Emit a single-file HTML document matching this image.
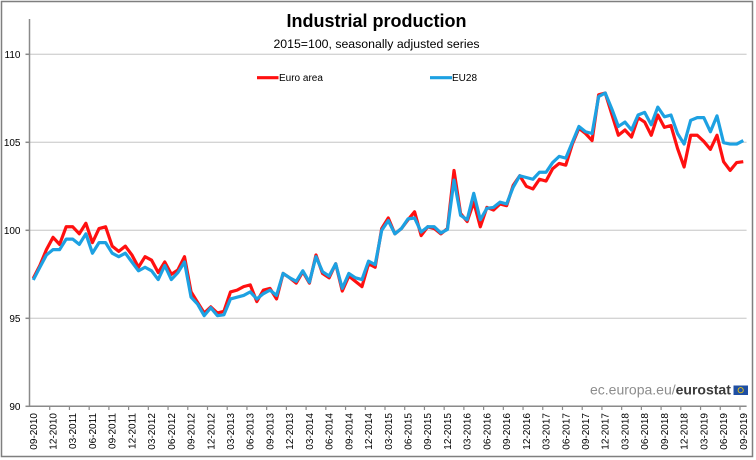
<!DOCTYPE html>
<html>
<head>
<meta charset="utf-8">
<style>
html,body{margin:0;padding:0;background:#fff;}
svg{display:block;font-family:"Liberation Sans",Arial,sans-serif;}
</style>
</head>
<body>
<svg width="756" height="460" viewBox="0 0 756 460" xmlns="http://www.w3.org/2000/svg">
<rect x="0" y="0" width="756" height="460" fill="#fff"/>
<rect x="1.5" y="1.5" width="751" height="455" fill="none" stroke="#7f7f7f" stroke-width="1.5"/>

<text x="376.5" y="27" font-size="18" font-weight="bold" text-anchor="middle" fill="#000">Industrial production</text>
<text x="376.5" y="48" font-size="12.3" text-anchor="middle" fill="#000">2015=100, seasonally adjusted series</text>

<!-- gridlines -->
<g stroke="#d4d4d4" stroke-width="1.3">
<line x1="30" y1="54.3" x2="746.6" y2="54.3"/>
<line x1="30" y1="142.3" x2="746.6" y2="142.3"/>
<line x1="30" y1="230.3" x2="746.6" y2="230.3"/>
<line x1="30" y1="318.3" x2="746.6" y2="318.3"/>
</g>

<!-- axes -->
<g stroke="#8a8a8a" stroke-width="1.5">
<line x1="29.5" y1="19" x2="29.5" y2="406.3"/>
<line x1="29.5" y1="406.3" x2="746.6" y2="406.3"/>
<line x1="25.5" y1="54.3" x2="29.5" y2="54.3"/>
<line x1="25.5" y1="142.3" x2="29.5" y2="142.3"/>
<line x1="25.5" y1="230.3" x2="29.5" y2="230.3"/>
<line x1="25.5" y1="318.3" x2="29.5" y2="318.3"/>
<line x1="25.5" y1="406.3" x2="29.5" y2="406.3"/>
</g>
<g font-size="10" fill="#000" text-anchor="end">
<text x="20.5" y="57.8">110</text>
<text x="20.5" y="145.8">105</text>
<text x="20.5" y="233.8">100</text>
<text x="20.5" y="321.8">95</text>
<text x="20.5" y="409.8">90</text>
</g>

<!-- x ticks -->
<g stroke="#8a8a8a" stroke-width="1.2">
<line x1="49.72" y1="406" x2="49.72" y2="410"/>
<line x1="69.44" y1="406" x2="69.44" y2="410"/>
<line x1="89.17" y1="406" x2="89.17" y2="410"/>
<line x1="108.89" y1="406" x2="108.89" y2="410"/>
<line x1="128.61" y1="406" x2="128.61" y2="410"/>
<line x1="148.33" y1="406" x2="148.33" y2="410"/>
<line x1="168.05" y1="406" x2="168.05" y2="410"/>
<line x1="187.78" y1="406" x2="187.78" y2="410"/>
<line x1="207.50" y1="406" x2="207.50" y2="410"/>
<line x1="227.22" y1="406" x2="227.22" y2="410"/>
<line x1="246.94" y1="406" x2="246.94" y2="410"/>
<line x1="266.66" y1="406" x2="266.66" y2="410"/>
<line x1="286.39" y1="406" x2="286.39" y2="410"/>
<line x1="306.11" y1="406" x2="306.11" y2="410"/>
<line x1="325.83" y1="406" x2="325.83" y2="410"/>
<line x1="345.55" y1="406" x2="345.55" y2="410"/>
<line x1="365.27" y1="406" x2="365.27" y2="410"/>
<line x1="385.00" y1="406" x2="385.00" y2="410"/>
<line x1="404.72" y1="406" x2="404.72" y2="410"/>
<line x1="424.44" y1="406" x2="424.44" y2="410"/>
<line x1="444.16" y1="406" x2="444.16" y2="410"/>
<line x1="463.88" y1="406" x2="463.88" y2="410"/>
<line x1="483.61" y1="406" x2="483.61" y2="410"/>
<line x1="503.33" y1="406" x2="503.33" y2="410"/>
<line x1="523.05" y1="406" x2="523.05" y2="410"/>
<line x1="542.77" y1="406" x2="542.77" y2="410"/>
<line x1="562.49" y1="406" x2="562.49" y2="410"/>
<line x1="582.22" y1="406" x2="582.22" y2="410"/>
<line x1="601.94" y1="406" x2="601.94" y2="410"/>
<line x1="621.66" y1="406" x2="621.66" y2="410"/>
<line x1="641.38" y1="406" x2="641.38" y2="410"/>
<line x1="661.10" y1="406" x2="661.10" y2="410"/>
<line x1="680.83" y1="406" x2="680.83" y2="410"/>
<line x1="700.55" y1="406" x2="700.55" y2="410"/>
<line x1="720.27" y1="406" x2="720.27" y2="410"/>
<line x1="739.99" y1="406" x2="739.99" y2="410"/>
</g>

<!-- x labels -->
<g font-size="10" fill="#000" text-anchor="end">
<text transform="translate(33.29,413) rotate(-90)" dy="3.5">09-2010</text>
<text transform="translate(53.01,413) rotate(-90)" dy="3.5">12-2010</text>
<text transform="translate(72.73,413) rotate(-90)" dy="3.5">03-2011</text>
<text transform="translate(92.46,413) rotate(-90)" dy="3.5">06-2011</text>
<text transform="translate(112.18,413) rotate(-90)" dy="3.5">09-2011</text>
<text transform="translate(131.90,413) rotate(-90)" dy="3.5">12-2011</text>
<text transform="translate(151.62,413) rotate(-90)" dy="3.5">03-2012</text>
<text transform="translate(171.34,413) rotate(-90)" dy="3.5">06-2012</text>
<text transform="translate(191.07,413) rotate(-90)" dy="3.5">09-2012</text>
<text transform="translate(210.79,413) rotate(-90)" dy="3.5">12-2012</text>
<text transform="translate(230.51,413) rotate(-90)" dy="3.5">03-2013</text>
<text transform="translate(250.23,413) rotate(-90)" dy="3.5">06-2013</text>
<text transform="translate(269.95,413) rotate(-90)" dy="3.5">09-2013</text>
<text transform="translate(289.68,413) rotate(-90)" dy="3.5">12-2013</text>
<text transform="translate(309.40,413) rotate(-90)" dy="3.5">03-2014</text>
<text transform="translate(329.12,413) rotate(-90)" dy="3.5">06-2014</text>
<text transform="translate(348.84,413) rotate(-90)" dy="3.5">09-2014</text>
<text transform="translate(368.56,413) rotate(-90)" dy="3.5">12-2014</text>
<text transform="translate(388.29,413) rotate(-90)" dy="3.5">03-2015</text>
<text transform="translate(408.01,413) rotate(-90)" dy="3.5">06-2015</text>
<text transform="translate(427.73,413) rotate(-90)" dy="3.5">09-2015</text>
<text transform="translate(447.45,413) rotate(-90)" dy="3.5">12-2015</text>
<text transform="translate(467.17,413) rotate(-90)" dy="3.5">03-2016</text>
<text transform="translate(486.90,413) rotate(-90)" dy="3.5">06-2016</text>
<text transform="translate(506.62,413) rotate(-90)" dy="3.5">09-2016</text>
<text transform="translate(526.34,413) rotate(-90)" dy="3.5">12-2016</text>
<text transform="translate(546.06,413) rotate(-90)" dy="3.5">03-2017</text>
<text transform="translate(565.78,413) rotate(-90)" dy="3.5">06-2017</text>
<text transform="translate(585.51,413) rotate(-90)" dy="3.5">09-2017</text>
<text transform="translate(605.23,413) rotate(-90)" dy="3.5">12-2017</text>
<text transform="translate(624.95,413) rotate(-90)" dy="3.5">03-2018</text>
<text transform="translate(644.67,413) rotate(-90)" dy="3.5">06-2018</text>
<text transform="translate(664.39,413) rotate(-90)" dy="3.5">09-2018</text>
<text transform="translate(684.12,413) rotate(-90)" dy="3.5">12-2018</text>
<text transform="translate(703.84,413) rotate(-90)" dy="3.5">03-2019</text>
<text transform="translate(723.56,413) rotate(-90)" dy="3.5">06-2019</text>
<text transform="translate(743.28,413) rotate(-90)" dy="3.5">09-2019</text>
</g>

<!-- series: x = 33.287 + i*6.574, y = 1990.3 - 17.6*v -->
<g transform="matrix(6.574 0 0 -17.6 33.287 1990.3)" fill="none" stroke-linejoin="round" stroke-linecap="butt">
<polyline vector-effect="non-scaling-stroke" stroke="#ff1010" stroke-width="3.2" points="0,97.27 1,98.0 2,98.9 3,99.6 4,99.2 5,100.2 6,100.2 7,99.8 8,100.4 9,99.3 10,100.1 11,100.2 12,99.1 13,98.8 14,99.1 15,98.6 16,97.9 17,98.5 18,98.3 19,97.6 20,98.2 21,97.5 22,97.75 23,98.5 24,96.5 25,95.9 26,95.3 27,95.65 28,95.3 29,95.4 30,96.5 31,96.6 32,96.8 33,96.9 34,95.95 35,96.6 36,96.7 37,96.1 38,97.55 39,97.3 40,97.0 41,97.65 42,97.0 43,98.6 44,97.55 45,97.3 46,98.1 47,96.55 48,97.4 49,97.1 50,96.8 51,98.1 52,97.9 53,100.1 54,100.7 55,99.8 56,100.1 57,100.6 58,101.05 59,99.7 60,100.2 61,100.1 62,99.8 63,100.1 64,103.4 65,100.95 66,100.5 67,101.6 68,100.2 69,101.3 70,101.15 71,101.5 72,101.4 73,102.55 74,103.1 75,102.5 76,102.35 77,102.9 78,102.8 79,103.5 80,103.8 81,103.7 82,104.9 83,105.8 84,105.5 85,105.1 86,107.7 87,107.8 88,106.6 89,105.4 90,105.7 91,105.3 92,106.4 93,106.15 94,105.4 95,106.55 96,105.85 97,105.95 98,104.65 99,103.6 100,105.4 101,105.4 102,105.05 103,104.6 104,105.4 105,103.9 106,103.4 107,103.85 108,103.9"/>
<polyline vector-effect="non-scaling-stroke" stroke="#1da1e2" stroke-width="3.2" points="0,97.18 1,97.9 2,98.6 3,98.9 4,98.9 5,99.5 6,99.5 7,99.2 8,99.8 9,98.7 10,99.3 11,99.3 12,98.7 13,98.5 14,98.7 15,98.2 16,97.7 17,97.9 18,97.7 19,97.2 20,98.0 21,97.2 22,97.6 23,98.2 24,96.2 25,95.8 26,95.15 27,95.6 28,95.15 29,95.2 30,96.1 31,96.2 32,96.3 33,96.5 34,96.1 35,96.4 36,96.6 37,96.3 38,97.55 39,97.3 40,97.1 41,97.7 42,97.05 43,98.5 44,97.65 45,97.4 46,98.1 47,96.7 48,97.55 49,97.3 50,97.2 51,98.25 52,98.05 53,100.0 54,100.55 55,99.8 56,100.1 57,100.65 58,100.7 59,99.9 60,100.2 61,100.2 62,99.85 63,100.05 64,102.85 65,100.85 66,100.6 67,102.1 68,100.6 69,101.25 70,101.3 71,101.6 72,101.5 73,102.45 74,103.1 75,103.0 76,102.9 77,103.3 78,103.3 79,103.85 80,104.2 81,104.1 82,105.0 83,105.9 84,105.6 85,105.5 86,107.6 87,107.8 88,106.9 89,105.9 90,106.15 91,105.7 92,106.55 93,106.7 94,106.0 95,107.0 96,106.45 97,106.55 98,105.5 99,104.9 100,106.25 101,106.4 102,106.4 103,105.6 104,106.5 105,104.98 106,104.9 107,104.9 108,105.1"/>
</g>

<!-- legend -->
<line x1="257" y1="77.7" x2="278.5" y2="77.7" stroke="#ff1010" stroke-width="3.2"/>
<text x="279" y="81.2" font-size="10" fill="#000">Euro area</text>
<line x1="430" y1="77.7" x2="452" y2="77.7" stroke="#1da1e2" stroke-width="3.2"/>
<text x="452" y="81.2" font-size="10" fill="#000">EU28</text>

<!-- logo -->
<text x="590" y="394.5" font-size="14" fill="#8c8c8c">ec.europa.eu/<tspan font-weight="bold" fill="#3a3a3a">eurostat</tspan></text>
<rect x="733.5" y="385.5" width="14.5" height="9.5" fill="#1f4fa3"/>
<circle cx="740.7" cy="390.2" r="2.6" fill="none" stroke="#e6c619" stroke-width="0.9"/>
</svg>
</body>
</html>
